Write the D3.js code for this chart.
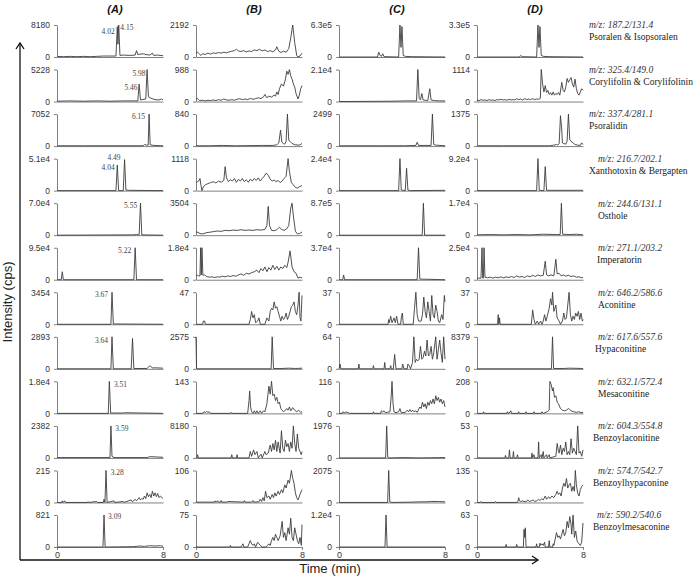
<!DOCTYPE html>
<html><head><meta charset="utf-8">
<script src="https://cdn.jsdelivr.net/npm/d3@7"></script>
<style>body{margin:0;background:#fff}svg{display:block}</style>
</head><body>
<script>
// ---------- DATA ----------
const columns = ["(A)", "(B)", "(C)", "(D)"];
const mzLabels = ["m/z: 187.2/131.4","m/z: 325.4/149.0","m/z: 337.4/281.1","m/z: 216.7/202.1","m/z: 244.6/131.1","m/z: 271.1/203.2","m/z: 646.2/586.6","m/z: 617.6/557.6","m/z: 632.1/572.4","m/z: 604.3/554.8","m/z: 574.7/542.7","m/z: 590.2/540.6"];
const compounds = ["Psoralen & Isopsoralen","Corylifolin  & Corylifolinin","Psoralidin","Xanthotoxin & Bergapten","Osthole","Imperatorin","Aconitine","Hypaconitine","Mesaconitine","Benzoylaconitine","Benzoylhypaconine","Benzoylmesaconine"];
const maxA = ["8180","5228","7052","5.1e4","7.0e4","9.5e4","3454","2893","1.8e4","2382","215","821"];
const maxB = ["2192","988","840","1118","3504","1.8e4","47","2575","143","8180","106","75"];
const maxC = ["6.3e5","2.1e4","2499","2.4e4","8.7e5","3.7e4","37","64","116","1976","2075","1.2e4"];
const maxD = ["3.3e5","1114","1375","9.2e4","1.7e4","2.5e4","37","8379","208","53","135","63"];
const xTicks = [0, 8];

// traces: [time (min), % of panel max]
const A1=[[0,2],[0.5,1],[1,2],[1.5,1],[2,2],[2.5,1],[3,2],[3.5,3],[4,3],[4.45,3],[4.55,95],[4.6,40],[4.66,100],[4.75,5],[5,6],[5.5,5],[5.9,6],[6.0,20],[6.1,8],[6.5,10],[6.8,7],[7.0,6],[7.2,12],[7.3,5],[7.6,6],[8,4]];
const A2=[[0,1],[1,2],[2,1],[3,2],[4,1],[5,2],[6.1,2],[6.2,55],[6.3,5],[6.7,8],[6.8,100],[6.9,15],[7.1,10],[7.4,6],[7.7,5],[7.9,8],[8,5]];
const A3=[[0,1],[2,1],[4,1],[6.5,1],[6.6,5],[6.75,3],[6.88,3],[6.95,100],[7.03,4],[7.3,2],[8,1]];
const A4=[[0,0],[4.45,0],[4.55,80],[4.65,0],[5.0,0],[5.1,97],[5.2,2],[5.4,1],[8,0]];
const A5=[[0,0],[5.8,1],[6.0,2],[6.2,1],[6.3,100],[6.4,1],[8,0]];
const A6=[[0,0],[0.32,0],[0.4,25],[0.48,0],[5.8,0],[5.9,100],[6.0,0],[8,0]];
const A7=[[0,0],[4.07,0],[4.15,100],[4.25,1],[8,0]];
const A8=[[0,0],[4.07,0],[4.15,100],[4.25,0],[5.6,0],[5.7,95],[5.8,1],[6.8,1],[7.0,10],[7.2,3],[7.5,3],[8,2]];
const A9=[[0,0],[3.87,0],[3.95,100],[4.05,1],[5.0,1],[5.1,2],[8,0]];
const A10=[[0,1],[4.0,1],[4.07,100],[4.15,5],[4.3,1],[6.8,1],[7.0,4],[7.5,3],[8,2]];
const A11=[[0,0],[0.35,0],[0.4,5],[0.45,0],[0.6,5],[0.65,0],[2.3,0],[2.35,3],[2.4,0],[3.0,3],[3.05,0],[3.5,0],[3.55,10],[3.62,0],[3.7,100],[3.78,0],[4.3,5],[4.35,0],[5.0,3],[5.05,0],[5.6,8],[5.7,2],[5.9,10],[6.0,5],[6.2,15],[6.3,8],[6.4,12],[6.5,10],[6.6,20],[6.7,12],[6.8,30],[6.9,18],[7.0,25],[7.1,15],[7.2,35],[7.3,20],[7.4,30],[7.5,18],[7.6,28],[7.7,15],[7.8,20],[8,12]];
const A12=[[0,0],[3.47,0],[3.55,100],[3.63,0],[5.8,1],[6.2,3],[6.6,2],[7.0,4],[7.4,3],[7.8,4],[8,2]];

const B1=[[0,12],[0.1,15],[0.25,10],[0.35,5],[0.5,10],[0.7,8],[0.9,12],[1.1,9],[1.3,13],[1.5,11],[1.7,14],[1.9,12],[2.1,15],[2.3,13],[2.5,16],[2.7,18],[2.9,20],[3.05,24],[3.2,19],[3.4,17],[3.6,20],[3.8,16],[4.0,19],[4.2,17],[4.4,22],[4.6,20],[4.8,24],[5.0,19],[5.2,22],[5.4,17],[5.6,20],[5.8,16],[6.0,22],[6.1,32],[6.25,18],[6.4,14],[6.6,18],[6.8,15],[7.0,26],[7.15,60],[7.3,100],[7.45,45],[7.6,5],[7.7,0],[7.85,3],[8,12]];
const B2=[[0,8],[0.1,10],[0.25,3],[0.5,4],[0.7,2],[0.9,4],[1.1,3],[1.3,5],[1.5,3],[1.7,6],[1.9,4],[2.1,8],[2.3,5],[2.5,4],[2.7,6],[2.9,4],[3.1,7],[3.3,9],[3.5,6],[3.7,8],[3.9,6],[4.1,10],[4.3,7],[4.5,9],[4.7,12],[4.9,9],[5.1,15],[5.2,22],[5.35,12],[5.5,17],[5.7,14],[5.9,20],[6.0,17],[6.1,30],[6.2,22],[6.3,40],[6.45,55],[6.6,48],[6.75,70],[6.85,95],[6.95,85],[7.05,100],[7.15,80],[7.25,70],[7.35,55],[7.45,45],[7.55,25],[7.7,8],[7.8,20],[7.9,40],[8,50]];
const B3=[[0,1],[1,1],[2,2],[3,1],[4,1.5],[5,2],[5.8,2],[6.1,4],[6.25,10],[6.38,50],[6.48,12],[6.6,8],[6.7,6],[6.8,15],[6.9,100],[7.0,18],[7.1,15],[7.25,8],[7.5,4],[7.8,3],[8,8]];
const B4=[[0,25],[0.1,28],[0.2,30],[0.3,38],[0.38,15],[0.45,0],[0.55,12],[0.7,18],[0.9,22],[1.1,25],[1.3,28],[1.5,24],[1.7,30],[1.9,26],[2.1,32],[2.2,75],[2.3,40],[2.45,28],[2.6,34],[2.75,30],[2.9,38],[3.05,26],[3.2,35],[3.35,30],[3.5,38],[3.65,28],[3.8,34],[3.95,26],[4.1,36],[4.25,30],[4.4,38],[4.55,32],[4.7,40],[4.85,30],[5.0,38],[5.15,45],[5.3,55],[5.45,48],[5.6,36],[5.75,30],[5.9,33],[6.05,28],[6.2,32],[6.35,25],[6.5,30],[6.65,38],[6.8,45],[6.95,100],[7.05,60],[7.2,25],[7.35,18],[7.5,10],[7.65,8],[7.8,12],[8,16]];
const B5=[[0,10],[0.15,9],[0.3,5],[0.5,4],[0.8,8],[1.0,9],[1.3,11],[1.6,13],[1.9,12],[2.2,15],[2.5,14],[2.8,16],[3.1,15],[3.4,17],[3.7,15],[4.0,16],[4.3,15],[4.6,17],[4.9,16],[5.2,18],[5.35,30],[5.45,90],[5.55,30],[5.7,15],[5.9,14],[6.1,17],[6.3,25],[6.45,18],[6.65,15],[6.85,20],[7.0,30],[7.15,85],[7.25,100],[7.35,60],[7.5,12],[7.65,4],[7.8,5],[8,10]];
const B6=[[0,12],[0.1,14],[0.2,12],[0.3,12],[0.35,100],[0.4,15],[0.45,100],[0.52,14],[0.65,15],[0.8,10],[1.0,8],[1.2,9],[1.4,7],[1.6,9],[1.8,8],[2.0,11],[2.2,9],[2.4,12],[2.6,10],[2.8,13],[3.0,11],[3.2,15],[3.4,18],[3.6,14],[3.8,20],[4.0,18],[4.2,22],[4.4,25],[4.6,30],[4.75,22],[4.9,35],[5.05,28],[5.2,40],[5.35,25],[5.5,38],[5.65,30],[5.8,45],[5.95,32],[6.1,42],[6.25,30],[6.4,40],[6.55,35],[6.7,45],[6.85,38],[6.95,55],[7.1,90],[7.25,40],[7.4,25],[7.55,20],[7.7,5],[7.85,8],[8,6]];
const B7=[[0,0],[0.5,0],[0.55,10],[0.65,10],[0.7,0],[4.0,0],[4.1,15],[4.2,40],[4.3,20],[4.4,30],[4.5,5],[4.65,10],[4.75,20],[4.85,0],[5.2,0],[5.35,20],[5.5,10],[5.6,40],[5.7,50],[5.8,45],[5.9,70],[6.0,50],[6.1,55],[6.2,40],[6.3,25],[6.4,10],[6.5,25],[6.6,15],[6.7,20],[6.8,35],[6.9,15],[7.0,25],[7.2,55],[7.3,60],[7.4,70],[7.5,40],[7.6,30],[7.7,60],[7.78,100],[7.85,20],[7.92,10],[8,90]];
const B8=[[0,100],[0.04,0],[5.67,0],[5.75,100],[5.85,1],[6.5,1],[7,2],[7.5,1],[8,2]];
const B9=[[0,0],[0.5,0],[0.6,5],[0.7,3],[0.8,6],[0.9,3],[1.0,5],[1.1,0],[2.6,0],[2.65,3],[2.7,0],[3.9,0],[4.0,40],[4.05,70],[4.12,20],[4.2,5],[4.3,0],[4.4,8],[4.5,0],[4.6,8],[4.7,0],[4.85,8],[4.95,0],[5.1,8],[5.2,5],[5.35,30],[5.5,85],[5.6,60],[5.7,100],[5.8,55],[5.9,60],[6.0,40],[6.1,50],[6.2,30],[6.3,35],[6.4,15],[6.5,10],[6.6,5],[6.7,8],[6.85,15],[6.95,10],[7.05,20],[7.15,8],[7.3,18],[7.45,10],[7.6,5],[7.75,10],[7.9,3],[8,5]];
const B10=[[0,0],[0.08,0],[0.12,10],[0.18,0],[2.65,0],[2.7,10],[2.75,0],[3.05,0],[3.1,10],[3.15,0],[4.0,0],[4.1,20],[4.2,5],[4.35,25],[4.45,10],[4.6,20],[4.7,0],[4.9,12],[5.0,0],[5.2,20],[5.3,10],[5.45,15],[5.6,40],[5.7,20],[5.8,45],[5.9,25],[6.0,55],[6.1,20],[6.2,50],[6.35,15],[6.45,85],[6.55,30],[6.65,20],[6.75,55],[6.85,35],[6.95,45],[7.05,20],[7.15,50],[7.25,30],[7.35,100],[7.45,45],[7.55,20],[7.65,75],[7.75,30],[7.85,20],[7.95,10],[8,20]];
const B11=[[0,1],[0.5,1],[1.4,1],[1.45,5],[1.5,1],[1.65,5],[1.7,1],[1.85,1],[1.9,6],[1.95,1],[2.35,1],[2.4,3],[3.6,1],[3.65,6],[3.7,1],[4.2,1],[4.3,6],[4.35,1],[4.75,2],[4.85,10],[4.95,3],[5.05,15],[5.15,5],[5.25,35],[5.35,15],[5.5,20],[5.6,10],[5.75,25],[5.85,15],[5.95,30],[6.05,20],[6.2,35],[6.3,25],[6.45,40],[6.55,30],[6.7,55],[6.8,45],[6.95,70],[7.05,60],[7.2,100],[7.3,75],[7.4,60],[7.5,30],[7.6,15],[7.7,8],[7.85,25],[8,40]];
const B12=[[0,0],[2.55,0],[2.6,5],[2.65,0],[3.4,0],[3.45,4],[3.55,10],[3.6,0],[3.9,0],[4.0,10],[4.1,20],[4.2,10],[4.3,5],[4.4,10],[4.5,0],[4.65,15],[4.75,10],[4.85,5],[5.0,0],[5.3,0],[5.4,5],[5.5,10],[5.6,5],[5.7,20],[5.8,30],[5.9,20],[6.0,40],[6.1,30],[6.2,20],[6.35,35],[6.5,80],[6.6,30],[6.7,45],[6.8,20],[6.95,60],[7.05,40],[7.15,90],[7.25,30],[7.35,20],[7.45,60],[7.55,40],[7.65,20],[7.75,10],[7.85,30],[7.95,5],[8,70]];

const C1=[[0,0],[2.9,0],[3.0,15],[3.1,5],[3.2,2],[3.3,10],[3.4,1],[4.5,0],[4.6,100],[4.68,30],[4.75,95],[4.85,5],[5.0,2],[5.5,1],[8,0]];
const C2=[[0,0],[4,1],[5,2],[5.85,2],[5.95,100],[6.05,10],[6.15,5],[6.25,25],[6.35,5],[6.7,3],[6.85,40],[6.95,5],[7.2,3],[7.6,2],[8,2]];
const C3=[[0,1],[3,1],[4.85,1],[4.9,3],[4.95,1],[5.8,2],[5.9,12],[6.0,2],[6.95,2],[7.05,100],[7.15,5],[7.3,3],[8,1]];
const C4=[[0,0],[4.5,0],[4.6,100],[4.7,2],[5.0,0],[5.1,70],[5.2,2],[5.4,0],[8,1]];
const C5=[[0,0],[6.28,0],[6.37,100],[6.46,0],[8,0]];
const C6=[[0,0],[0.28,0],[0.35,15],[0.42,0],[5.9,0],[6.0,100],[6.1,2],[8,0]];
const C7=[[0,0],[3.7,0],[3.75,15],[3.8,5],[3.9,25],[4.0,5],[4.15,20],[4.25,5],[4.35,25],[4.45,0],[4.65,0],[4.7,20],[4.78,35],[4.85,0],[5.6,0],[5.7,50],[5.8,100],[5.9,30],[6.0,10],[6.1,10],[6.2,10],[6.3,30],[6.4,85],[6.5,40],[6.6,20],[6.7,70],[6.8,40],[6.9,10],[7.0,90],[7.1,30],[7.2,20],[7.3,60],[7.4,40],[7.5,10],[7.6,5],[7.75,30],[7.85,15],[7.95,90],[8,70]];
const C8=[[0,0],[0.08,15],[0.15,0],[1.45,0],[1.5,15],[1.55,0],[2.55,0],[2.6,10],[2.65,0],[3.4,0],[3.45,20],[3.5,0],[3.85,0],[3.9,10],[3.95,0],[4.1,0],[4.2,45],[4.3,0],[4.75,0],[4.8,15],[4.85,10],[4.9,0],[5.15,0],[5.2,15],[5.3,10],[5.4,0],[5.55,20],[5.65,100],[5.75,20],[5.85,30],[5.95,25],[6.05,30],[6.15,70],[6.25,30],[6.35,35],[6.45,55],[6.55,40],[6.65,90],[6.75,40],[6.85,45],[6.95,70],[7.05,30],[7.15,50],[7.3,100],[7.4,30],[7.5,60],[7.6,90],[7.7,50],[7.8,20],[7.9,100],[8,30]];
const C9=[[0,0],[0.25,0],[0.3,5],[0.4,2],[0.55,4],[0.7,2],[0.8,0],[2.55,0],[2.6,5],[2.65,0],[3.15,0],[3.2,8],[3.3,4],[3.4,8],[3.5,2],[3.85,5],[3.95,60],[4.0,100],[4.08,30],[4.15,5],[4.3,2],[4.5,5],[4.6,15],[4.7,2],[5.0,3],[5.15,10],[5.25,5],[5.35,12],[5.45,5],[5.55,10],[5.65,5],[5.8,8],[5.9,3],[6.1,20],[6.2,15],[6.3,35],[6.4,20],[6.5,30],[6.6,15],[6.7,35],[6.8,25],[6.9,40],[7.0,30],[7.1,45],[7.2,30],[7.3,55],[7.4,40],[7.5,50],[7.6,35],[7.7,45],[7.8,30],[7.9,40],[8,20]];
const C10=[[0,0],[3.52,0],[3.6,100],[3.68,2],[3.8,0],[5,1],[6,0],[8,1]];
const C11=[[0,0],[3.67,0],[3.75,100],[3.83,2],[4.0,0],[5.5,1],[6,2],[6.5,2],[7,3],[7.5,3],[8,2]];
const C12=[[0,0],[3.47,0],[3.55,100],[3.63,0],[8,0]];

const D1=[[0,0],[3.2,0],[3.3,5],[3.4,1],[4.5,0],[4.6,100],[4.68,30],[4.75,95],[4.85,5],[5.0,2],[5.5,1],[8,0]];
const D2=[[0,5],[0.15,3],[0.3,6],[0.45,4],[0.6,5],[0.75,3],[0.9,6],[1.05,4],[1.2,5],[1.35,3],[1.5,6],[1.65,5],[1.8,7],[1.95,5],[2.1,6],[2.25,4],[2.4,7],[2.55,5],[2.7,6],[2.85,5],[3.0,9],[3.15,6],[3.3,8],[3.45,5],[3.6,9],[3.75,6],[3.9,8],[4.05,6],[4.2,9],[4.35,6],[4.5,8],[4.65,7],[4.78,10],[4.85,100],[4.95,55],[5.05,30],[5.15,50],[5.25,28],[5.35,35],[5.45,22],[5.55,28],[5.65,20],[5.75,30],[5.85,20],[5.95,25],[6.05,22],[6.15,28],[6.25,20],[6.4,60],[6.5,35],[6.6,30],[6.7,45],[6.8,72],[6.9,60],[7.0,68],[7.1,75],[7.2,55],[7.3,45],[7.4,70],[7.5,40],[7.6,25],[7.7,20],[7.8,30],[7.9,40],[8,35]];
const D3=[[0,1],[2,1],[4,1],[5.5,1],[5.8,3],[6.0,5],[6.1,3],[6.2,8],[6.3,95],[6.38,60],[6.45,10],[6.55,8],[6.7,6],[6.8,15],[6.9,100],[7.0,20],[7.1,15],[7.25,10],[7.4,5],[7.6,3],[7.8,2],[7.9,10],[8,5]];
const D4=[[0,0],[4.5,0],[4.6,100],[4.7,1],[5.05,0],[5.15,75],[5.25,1],[8,1]];
const D5=[[0,1],[1,2],[2,1],[3,2],[4,1],[5,3],[6,2],[6.28,2],[6.37,100],[6.46,3],[7,2],[7.5,3],[8,1]];
const D6=[[0,5],[0.3,5],[0.38,100],[0.43,5],[0.48,5],[0.53,100],[0.6,8],[0.8,6],[1.0,8],[1.2,5],[1.4,8],[1.6,6],[1.8,9],[2.0,6],[2.2,9],[2.4,7],[2.6,10],[2.8,7],[3.0,12],[3.2,8],[3.4,10],[3.6,7],[3.8,12],[4.0,9],[4.2,14],[4.4,10],[4.6,15],[4.8,12],[5.0,14],[5.15,58],[5.25,15],[5.4,12],[5.6,15],[5.8,12],[5.95,64],[6.05,18],[6.2,20],[6.35,12],[6.5,15],[6.7,11],[6.9,14],[7.1,10],[7.3,12],[7.5,8],[7.7,9],[7.9,6],[8,8]];
const D7=[[0,0],[1.55,0],[1.6,30],[1.65,0],[1.7,20],[1.75,0],[4.1,0],[4.2,45],[4.3,15],[4.4,0],[4.55,10],[4.65,0],[4.8,10],[4.9,0],[5.0,10],[5.1,30],[5.2,10],[5.3,25],[5.45,50],[5.55,80],[5.65,60],[5.7,100],[5.8,40],[5.95,60],[6.05,20],[6.2,10],[6.3,0],[6.45,10],[6.55,35],[6.65,15],[6.75,20],[6.85,60],[6.95,100],[7.05,30],[7.15,10],[7.25,25],[7.35,15],[7.45,35],[7.55,25],[7.65,40],[7.75,15],[7.85,35],[7.95,10],[8,15]];
const D8=[[0,0],[5.62,0],[5.7,100],[5.78,1],[6.5,1],[7,2],[8,1]];
const D9=[[0,0],[0.45,0],[0.5,5],[0.55,0],[2.25,0],[2.3,5],[2.35,0],[2.5,4],[2.55,8],[2.6,0],[3.1,0],[3.15,5],[3.2,0],[3.65,0],[3.7,5],[3.75,0],[4.25,0],[4.3,5],[4.35,0],[4.85,0],[4.9,5],[5.0,0],[5.3,5],[5.45,10],[5.5,100],[5.6,90],[5.7,70],[5.75,80],[5.85,50],[5.95,55],[6.05,35],[6.15,30],[6.3,15],[6.45,10],[6.6,8],[6.75,10],[6.9,15],[7.0,12],[7.1,8],[7.3,5],[7.5,3],[7.7,5],[7.85,2],[8,3]];
const D10=[[0,0],[2.1,0],[2.15,8],[2.2,0],[2.4,0],[2.45,25],[2.5,0],[2.7,0],[2.75,20],[2.8,0],[3.0,0],[3.05,10],[3.1,0],[4.1,0],[4.15,15],[4.2,0],[4.3,10],[4.35,0],[4.6,0],[4.65,50],[4.7,0],[4.85,10],[4.9,0],[5.0,20],[5.05,0],[5.25,10],[5.3,0],[5.45,10],[5.5,0],[5.95,5],[6.05,45],[6.15,20],[6.2,15],[6.3,40],[6.4,10],[6.5,30],[6.6,20],[6.7,50],[6.8,10],[6.9,20],[7.0,10],[7.1,60],[7.2,15],[7.3,30],[7.4,20],[7.5,10],[7.6,100],[7.7,15],[7.8,20],[7.9,5],[8,25]];
const D11=[[0,0],[0.25,0],[0.3,3],[0.35,0],[1.35,0],[1.4,3],[1.45,0],[3.05,0],[3.1,5],[3.15,15],[3.2,5],[3.3,3],[3.45,5],[3.55,3],[3.7,2],[3.85,8],[3.95,3],[4.1,5],[4.25,8],[4.35,3],[4.5,5],[4.65,10],[4.75,6],[4.9,12],[5.0,8],[5.15,20],[5.25,10],[5.4,18],[5.5,12],[5.65,20],[5.8,15],[5.95,25],[6.05,35],[6.15,25],[6.25,30],[6.35,20],[6.45,45],[6.55,60],[6.65,50],[6.75,75],[6.85,45],[6.95,55],[7.05,60],[7.15,35],[7.25,50],[7.35,35],[7.42,100],[7.5,55],[7.6,30],[7.7,20],[7.8,40],[7.9,50],[8,55]];
const D12=[[0,0],[2.15,0],[2.2,8],[2.25,0],[2.95,0],[3.0,8],[3.05,0],[3.5,0],[3.55,55],[3.6,30],[3.65,60],[3.7,0],[4.45,0],[4.5,10],[4.55,0],[4.7,0],[4.75,12],[4.8,5],[4.9,10],[5.0,5],[5.1,15],[5.15,0],[5.4,0],[5.45,20],[5.5,0],[5.7,0],[5.75,10],[5.8,5],[5.9,25],[6.0,45],[6.1,30],[6.2,35],[6.3,25],[6.4,40],[6.5,55],[6.6,35],[6.7,45],[6.8,80],[6.9,60],[7.0,95],[7.1,70],[7.15,40],[7.25,100],[7.35,30],[7.45,50],[7.55,20],[7.6,15],[7.7,10],[7.8,5],[7.9,15],[8,75]];

const tracesA=[A1,A2,A3,A4,A5,A6,A7,A8,A9,A10,A11,A12];
const tracesB=[B1,B2,B3,B4,B5,B6,B7,B8,B9,B10,B11,B12];
const tracesC=[C1,C2,C3,C4,C5,C6,C7,C8,C9,C10,C11,C12];
const tracesD=[D1,D2,D3,D4,D5,D6,D7,D8,D9,D10,D11,D12];

// retention-time annotations in column A: [row, text, time, %]
const peakTexts = [[0,"4.02",4.35,80,"end"],[0,"4.15",4.78,93,"start"],[1,"5.98",6.68,88,"end"],[1,"5.46",6.08,45,"end"],[2,"6.15",6.65,92,"end"],[3,"4.49",4.3,103,"middle"],[3,"4.04",4.35,72,"end"],[4,"5.55",6.05,93,"end"],[5,"5.22",5.6,92,"end"],[6,"3.67",3.85,92,"end"],[7,"3.64",3.85,88,"end"],[8,"3.51",4.3,92,"start"],[9,"3.59",4.4,92,"start"],[10,"3.28",4.05,95,"start"],[11,"3.09",3.85,95,"start"]];

// ---------- LAYOUT ----------
const W = 697, H = 579;
const colLeft = [57, 196, 339, 477];
const panelW = 106, panelH = 32;
const rowZero = d3.scaleLinear().domain([0, 11]).range([57, 547]);
const labelX = [589,589,589,598,598,598,598,598,598,598,598,597];
const nameX  = [589,589,589,589,598,597,598,595,598,593,593,593];

const svg = d3.select("body").append("svg").attr("width", W).attr("height", H);

const cols = [
  {name: columns[0], max: maxA, traces: tracesA},
  {name: columns[1], max: maxB, traces: tracesB},
  {name: columns[2], max: maxC, traces: tracesC},
  {name: columns[3], max: maxD, traces: tracesD}
];

cols.forEach((c, ci) => {
  const x = d3.scaleLinear().domain([0, 8]).range([colLeft[ci], colLeft[ci] + panelW]);
  svg.append("text").attr("x", colLeft[ci] + panelW / 2 + 5).attr("y", 13)
    .attr("text-anchor", "middle").attr("font-family", "Liberation Sans, Arial, sans-serif")
    .attr("font-size", 11).attr("font-weight", "bold").attr("font-style", "italic").attr("fill", "#111")
    .text(c.name);
  c.traces.forEach((tr, ri) => {
    const z = rowZero(ri);
    const y = d3.scaleLinear().domain([0, 100]).range([z, z - panelH]);
    const g = svg.append("g");
    const ya = g.append("g").attr("transform", `translate(${colLeft[ci]},0)`)
      .call(d3.axisLeft(y).tickValues([0, 100]).tickFormat((d) => d === 0 ? "0" : c.max[ri]).tickSize(3).tickSizeOuter(0));
    ya.select(".domain").attr("stroke", "#808080");
    ya.selectAll(".tick line").attr("stroke", "#808080");
    ya.selectAll("text").attr("font-family", "Liberation Sans, Arial, sans-serif").attr("font-size", 8.5).attr("fill", "#333").attr("dx", "-1");
    const xa = g.append("g").attr("transform", `translate(0,${z})`);
    if (ri === 11) {
      xa.call(d3.axisBottom(x).tickValues(xTicks).tickFormat(d3.format("d")).tickSize(3).tickSizeOuter(0));
      xa.selectAll("text").attr("font-family", "Liberation Sans, Arial, sans-serif").attr("font-size", 9).attr("fill", "#333").attr("dy", "0.6em");
    } else {
      xa.call(d3.axisBottom(x).tickValues([]).tickSizeOuter(0));
    }
    xa.select(".domain").attr("stroke", "#808080");
    xa.selectAll(".tick line").attr("stroke", "#808080");
    g.append("path").datum(tr)
      .attr("d", d3.line().x(d => x(d[0])).y(d => y(d[1])))
      .attr("fill", "none").attr("stroke", "#3c3c3c").attr("stroke-width", 0.9).attr("stroke-linejoin", "round");
    if (ci === 0) {
      peakTexts.filter(p => p[0] === ri).forEach(p => {
        g.append("text").attr("x", x(p[2])).attr("y", y(p[3])).attr("dy", "0.35em")
          .attr("text-anchor", p[4]).attr("font-family", "Liberation Serif, Times New Roman, serif")
          .attr("font-size", 7.5).attr("fill", "#444").text(p[1]);
      });
    }
  });
});

mzLabels.forEach((m, i) => {
  const top = rowZero(i) - panelH;
  svg.append("text").attr("x", labelX[i]).attr("y", top).attr("dy", "0.35em")
    .attr("font-family", "Liberation Serif, Times New Roman, serif").attr("font-style", "italic")
    .attr("font-size", 9.5).attr("fill", "#333").text(m);
  svg.append("text").attr("x", nameX[i]).attr("y", top + 12).attr("dy", "0.35em")
    .attr("font-family", "Liberation Serif, Times New Roman, serif")
    .attr("font-size", 9.5).attr("fill", "#222").text(compounds[i]);
});

const ax = svg.append("g").attr("stroke", "#111").attr("stroke-width", 1.3).attr("fill", "none");
ax.append("line").attr("x1", 20).attr("y1", 560).attr("x2", 20).attr("y2", 43);
ax.append("path").attr("d", "M16,49 L20,43 L24,49");
ax.append("line").attr("x1", 20).attr("y1", 560).attr("x2", 538).attr("y2", 560);
ax.append("path").attr("d", "M532,556 L538,560 L532,564");

svg.append("text").attr("transform", "translate(12,302) rotate(-90)").attr("text-anchor", "middle")
  .attr("font-family", "Liberation Sans, Arial, sans-serif").attr("font-size", 13).attr("fill", "#222")
  .text("Intensity (cps)");
svg.append("text").attr("x", 330).attr("y", 573).attr("text-anchor", "middle")
  .attr("font-family", "Liberation Sans, Arial, sans-serif").attr("font-size", 13).attr("fill", "#222")
  .text("Time (min)");
</script>
</body></html>
